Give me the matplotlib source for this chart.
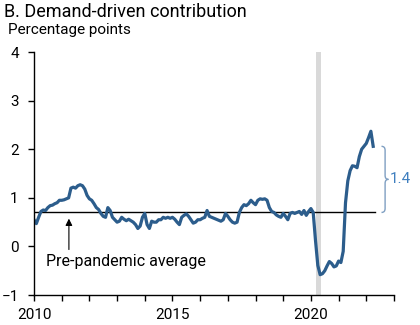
import numpy as np
import matplotlib.pyplot as plt
from matplotlib.path import Path
from matplotlib.patches import PathPatch

plt.rcParams['font.family'] = ['Roboto', 'DejaVu Sans']

# monthly demand-driven contribution, Jan 2010 onward (percentage points)
y2010 = [0.55, 0.47, 0.60, 0.72, 0.75, 0.74, 0.80, 0.84, 0.85, 0.88, 0.90, 0.95]
y2011 = [0.95, 0.96, 0.98, 1.00, 1.20, 1.22, 1.20, 1.25, 1.27, 1.25, 1.18, 1.05]
y2012 = [0.98, 0.95, 0.88, 0.80, 0.76, 0.68, 0.62, 0.60, 0.80, 0.74, 0.60, 0.55]
y2013 = [0.50, 0.52, 0.60, 0.56, 0.53, 0.56, 0.53, 0.50, 0.45, 0.37, 0.42, 0.60]
y2014 = [0.68, 0.45, 0.37, 0.52, 0.50, 0.50, 0.55, 0.55, 0.60, 0.58, 0.60, 0.58]
y2015 = [0.60, 0.56, 0.50, 0.45, 0.60, 0.64, 0.67, 0.62, 0.55, 0.48, 0.50, 0.55]
y2016 = [0.55, 0.58, 0.60, 0.74, 0.62, 0.60, 0.58, 0.56, 0.54, 0.52, 0.55, 0.68]
y2017 = [0.62, 0.55, 0.50, 0.48, 0.50, 0.70, 0.80, 0.86, 0.84, 0.88, 0.95, 0.90]
y2018 = [0.86, 0.95, 0.98, 0.97, 0.98, 0.95, 0.80, 0.72, 0.70, 0.65, 0.62, 0.60]
y2019 = [0.68, 0.62, 0.55, 0.68, 0.70, 0.68, 0.70, 0.72, 0.66, 0.74, 0.64, 0.72]
y2020 = [0.78, 0.70, 0.12, -0.39, -0.58, -0.56, -0.50, -0.40, -0.31, -0.35, -0.42, -0.40]
y2021 = [-0.30, -0.33, -0.10, 0.90, 1.35, 1.56, 1.66, 1.65, 1.62, 1.85, 2.00, 2.06]
y2022 = [2.12, 2.24, 2.37, 2.06]

pre_pandemic_avg = 0.70
gap_label = "1.4"
recession = (2020.17, 2020.38)

values = y2010 + y2011 + y2012 + y2013 + y2014 + y2015 + y2016 + y2017 + y2018 + y2019 + y2020 + y2021 + y2022
dates = 2010 + np.arange(len(values)) / 12.0

fig = plt.figure(figsize=(4.2, 3.25), dpi=100)
ax = fig.add_axes([0.081, 0.092, 0.857, 0.748])

ax.axvspan(recession[0], recession[1], color='#d9d9d9', lw=0)
ax.plot([2010, 2022.3], [pre_pandemic_avg, pre_pandemic_avg], color='black', lw=1)
ax.plot(dates, values, color='#2c5d8c', lw=2.3)

# arrow + label for the average
ax.annotate('', xy=(2011.26, 0.63), xytext=(2011.26, -0.12),
            arrowprops=dict(arrowstyle='-|>', color='black', lw=0.8, mutation_scale=10))
ax.text(2010.45, -0.30, 'Pre-pandemic average', fontsize=11.5, va='center', ha='left')

# curly brace showing the gap
top, bot = 2.06, pre_pandemic_avg
mid = (top + bot) / 2
x0, x1, xm = 2022.55, 2022.68, 2022.8
verts = [(x0, top), (x1, top), (x1, top - 0.08),
         (x1, mid + 0.08), (x1, mid), (xm, mid),
         (x1, mid), (x1, mid - 0.08),
         (x1, bot + 0.08), (x1, bot), (x0, bot)]
codes = [Path.MOVETO, Path.CURVE3, Path.CURVE3,
         Path.LINETO, Path.CURVE3, Path.CURVE3,
         Path.CURVE3, Path.CURVE3,
         Path.LINETO, Path.CURVE3, Path.CURVE3]
ax.add_patch(PathPatch(Path(verts, codes), fill=False, edgecolor='#7f9fc2', lw=1, clip_on=False))
ax.text(2022.85, mid, gap_label, color='#3f7fbf', fontsize=11, va='center', ha='left')

ax.set_xlim(2010, 2023)
ax.set_ylim(-1, 4)
ax.set_xticks([2010, 2015, 2020])
ax.set_xticks(np.arange(2010, 2024), minor=True)
ax.set_yticks([-1, 0, 1, 2, 3, 4])
ax.tick_params(which='both', direction='out', length=4, width=1, labelsize=11)
ax.tick_params(axis='y', pad=7)
ax.tick_params(axis='x', pad=5)
for s in ['top', 'right']:
    ax.spines[s].set_visible(False)
for s in ['left', 'bottom']:
    ax.spines[s].set_linewidth(1)

fig.text(0.01, 0.963, 'B. Demand-driven contribution', fontsize=13, va='center', ha='left')
fig.text(0.019, 0.908, 'Percentage points', fontsize=11, va='center', ha='left')

fig.savefig('out.png', dpi=100)
